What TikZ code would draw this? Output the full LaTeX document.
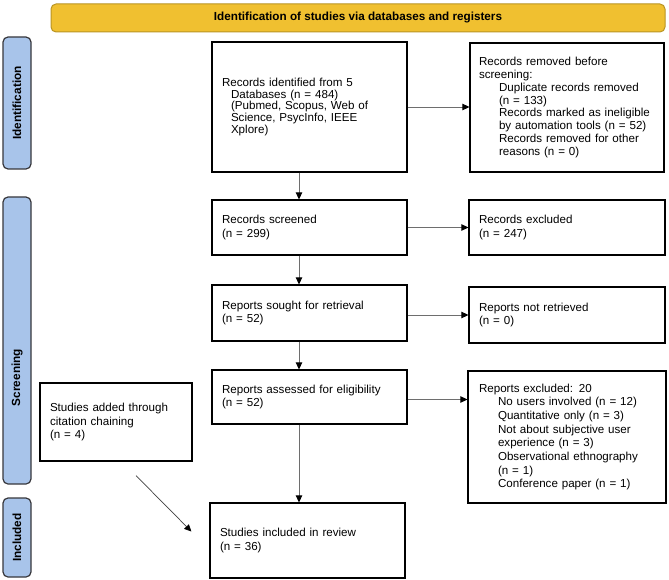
\documentclass[tikz,border=0pt]{standalone}
\usepackage{fontspec}
\setmainfont{Liberation Sans}
\usetikzlibrary{arrows.meta}
\definecolor{hdrfill}{RGB}{240,192,48}
\definecolor{hdrdraw}{RGB}{185,148,35}
\definecolor{barfill}{RGB}{168,196,234}
\definecolor{bardraw}{RGB}{55,55,60}
\definecolor{arrgray}{RGB}{110,110,110}
\newcommand{\ind}[1]{\hspace*{#1pt}}
\begin{document}
\begin{tikzpicture}[x=1pt,y=-1pt,
  box/.style={draw=black, line width=1.2pt, inner xsep=10pt, inner ysep=0pt,
    align=left, font=\fontsize{11.6}{13.7}\selectfont},
  sidebar/.style={draw=bardraw, fill=barfill, line width=1.2pt, rounded corners=5pt,
    inner sep=0pt, minimum width=28pt},
  sidelabel/.style={rotate=90, font=\fontsize{11.8}{13}\selectfont\bfseries},
  arr/.style={draw=arrgray, line width=0.9pt,
    -{Triangle[length=7pt,width=6.5pt,color=black]}},
  diag/.style={draw=black!75, line width=0.7pt,
    -{Triangle[length=7pt,width=6.5pt,color=black]}}
]
\useasboundingbox (0,0) rectangle (669,580);

% header
\node[draw=hdrdraw, fill=hdrfill, line width=1pt, rounded corners=5pt,
  minimum width=614pt, minimum height=28pt, inner sep=0pt,
  font=\fontsize{11.7}{13}\selectfont\bfseries] (hdr) at (358,18)
  {Identification of studies via databases and registers};

% side bars
\node[sidebar, minimum height=132pt] (barid) at (17,103) {};
\node[sidelabel] (lblid) at (barid.center) {Identification};
\node[sidebar, minimum height=287pt] (barsc) at (17,340.5) {};
\node[sidelabel] (lblsc) at ([yshift=-37pt]barsc.center) {Screening};
\node[sidebar, minimum height=79pt] (barin) at (17,537.5) {};
\node[sidelabel] (lblin) at (barin.center) {Included};

% boxes
\node[box, text width=175pt, minimum height=130pt,
  font=\fontsize{11.6}{11.8}\selectfont] (ident) at (309.5,107)
  {Records identified from 5\\
   \ind{9}Databases (n = 484)\\
   \ind{9}(Pubmed, Scopus, Web of\\
   \ind{9}Science, PsycInfo, IEEE\\
   \ind{9}Xplore)};
\node[box, text width=176pt, minimum height=129pt, inner xsep=9pt,
  font=\fontsize{11.6}{12.9}\selectfont] (removed) at (567,107.5)
  {Records removed before\\
   screening:\\
   \ind{20}Duplicate records removed\\
   \ind{20}(n = 133)\\
   \ind{20}Records marked as ineligible\\
   \ind{20}by automation tools (n = 52)\\
   \ind{20}Records removed for other\\
   \ind{20}reasons (n = 0)};
\node[box, text width=175pt, minimum height=55pt] (screened) at (309.5,227.5)
  {Records screened\\(n = 299)};
\node[box, text width=176pt, minimum height=55pt] (recex) at (567,227.5)
  {Records excluded\\(n = 247)};
\node[box, text width=175pt, minimum height=56pt] (sought) at (309.5,313)
  {Reports sought for retrieval\\(n = 52)};
\node[box, text width=176pt, minimum height=56pt] (notret) at (567,315)
  {Reports not retrieved\\(n = 0)};
\node[box, text width=175pt, minimum height=54pt] (assessed) at (309.5,397)
  {Reports assessed for eligibility\\(n = 52)};
\node[box, text width=176pt, minimum height=132pt, inner xsep=11pt] (repex) at (567,437)
  {Reports excluded: 20\\
   \ind{19}No users involved (n = 12)\\
   \ind{19}Quantitative only (n = 3)\\
   \ind{19}Not about subjective user\\
   \ind{19}experience (n = 3)\\
   \ind{19}Observational ethnography\\
   \ind{19}(n = 1)\\
   \ind{19}Conference paper (n = 1)};
\node[box, text width=132pt, minimum height=78pt] (cite) at (116,422)
  {Studies added through\\citation chaining\\(n = 4)};
\node[box, text width=175pt, minimum height=75pt] (incl) at (307.5,540.5)
  {Studies included in review\\(n = 36)};

% connectors
\coordinate (ax) at (299,0);
\coordinate (ae) at ([yshift=-2.5pt]assessed.east);
\draw[arr] (ident.south -| ax) -- (screened.north -| ax);
\draw[arr] (screened.south -| ax) -- (sought.north -| ax);
\draw[arr] (sought.south -| ax) -- (assessed.north -| ax);
\draw[arr] (assessed.south -| ax) -- (incl.north -| ax);
\draw[arr] (ident.east) -- (removed.west |- ident.east);
\draw[arr] (screened.east) -- (recex.west |- screened.east);
\draw[arr] (sought.east |- notret.west) -- (notret.west);
\draw[arr] (ae) -- (repex.west |- ae);
\coordinate (ds) at ([shift={(20pt,-14pt)}]cite.south);
\coordinate (de) at ([shift={(-18pt,9pt)}]incl.west);
\draw[diag] (ds) -- (de);
\end{tikzpicture}
\end{document}
